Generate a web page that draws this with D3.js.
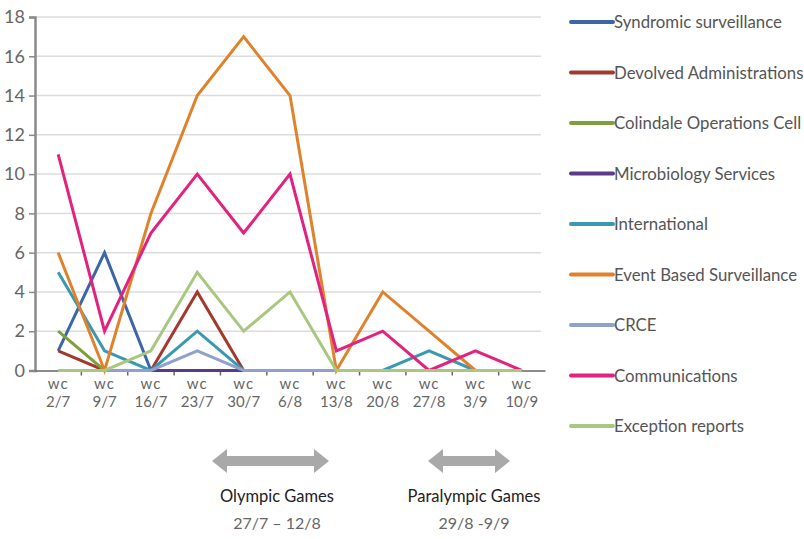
<!DOCTYPE html>
<html>
<head>
<meta charset="utf-8">
<script src="https://cdn.jsdelivr.net/npm/d3@7/dist/d3.min.js"></script>
<style>
  body { margin: 0; background: #fff; }
  text { font-family: Lato, "Open Sans", sans-serif; }
</style>
</head>
<body>
<svg id="chart" width="804" height="539"></svg>
<script>
// categories (week commencing)
var weeks = ["2/7", "9/7", "16/7", "23/7", "30/7", "6/8", "13/8", "20/8", "27/8", "3/9", "10/9"];
var yTicks = [0, 2, 4, 6, 8, 10, 12, 14, 16, 18];

// series values, null = no point
var syndromic      = [1, 6, 0, 0, 0, 0, 0, 0, 0, 0, null];
var devolved       = [1, 0, 0, 4, 0, 0, 0, 0, 0, 0, null];
var colindale      = [2, 0, 0, 0, 0, 0, 0, 0, 0, 0, null];
var microbiology   = [0, 0, 0, 0, 0, 0, 0, 0, 0, 0, null];
var international  = [5, 1, 0, 2, 0, 0, 0, 0, 1, 0, null];
var eventBased     = [6, 0, 8, 14, 17, 14, 0, 4, 2, 0, null];
var crce           = [0, 0, 0, 1, 0, 0, 0, null, null, null, null];
var communications = [11, 2, 7, 10, 7, 10, 1, 2, 0, 1, 0];
var exceptionRep   = [0, 0, 1, 5, 2, 4, 0, 0, 0, 0, 0];

var seriesNames = ["Syndromic surveillance", "Devolved Administrations", "Colindale Operations Cell",
  "Microbiology Services", "International", "Event Based Surveillance", "CRCE",
  "Communications", "Exception reports"];
var seriesValues = [syndromic, devolved, colindale, microbiology, international, eventBased, crce,
  communications, exceptionRep];
var seriesColors = ["#3c66a8", "#a3382f", "#7e9f3b", "#5c3a88", "#3a99b1", "#e0822c", "#8fa1cc",
  "#e2237e", "#a8c77f"];

// games annotations
var games = [
  {name: "Olympic Games", dates: "27/7 \u2013 12/8", x0: 212, x1: 329, tx: 277},
  {name: "Paralympic Games", dates: "29/8 -9/9", x0: 428, x1: 510, tx: 474}
];

var svg = d3.select("#chart");
var mLeft = 35, mRight = 545, mTop = 17, mBottom = 370.5;

var x = d3.scaleBand().domain(weeks).range([mLeft, mRight]);
var y = d3.scaleLinear().domain([0, 18]).range([mBottom, mTop]);

// grid
svg.append("g").selectAll("line")
  .data(yTicks.filter(function(d) { return d > 0; }))
  .enter().append("line")
  .attr("x1", mLeft).attr("x2", 541)
  .attr("y1", function(d) { return y(d); })
  .attr("y2", function(d) { return y(d); })
  .attr("stroke", "#dcdcdc").attr("stroke-width", 1.5);

// y axis
var yAxis = d3.axisLeft(y).tickValues(yTicks).tickSize(6).tickPadding(4);
var gy = svg.append("g").attr("transform", "translate(" + mLeft + ",0)").call(yAxis);
gy.select(".domain").attr("stroke", "#8a8a8a").attr("stroke-width", 2.5);
gy.selectAll(".tick line").attr("stroke", "#8a8a8a").attr("stroke-width", 1.5);
gy.selectAll(".tick text").attr("font-size", 18).attr("fill", "#666")
  .style("font-family", "Lato, sans-serif");

// x axis
var xAxis = d3.axisBottom(x).tickSize(0).tickFormat("");
var gx = svg.append("g").attr("transform", "translate(0," + mBottom + ")").call(xAxis);
gx.select(".domain").attr("stroke", "#666").attr("stroke-width", 1.5);
// separators between categories
gx.selectAll(".sep").data(weeks.slice(1)).enter().append("line")
  .attr("x1", function(d) { return x(d); }).attr("x2", function(d) { return x(d); })
  .attr("y1", 0).attr("y2", 5).attr("stroke", "#666").attr("stroke-width", 1.5);
var lab = gx.selectAll(".lab").data(weeks).enter().append("text")
  .attr("text-anchor", "middle").attr("fill", "#666").attr("font-size", 15)
  .attr("transform", function(d) { return "translate(" + (x(d) + x.bandwidth() / 2) + ",0)"; });
lab.append("tspan").attr("x", 0).attr("y", 18).attr("letter-spacing", 1).text("wc");
lab.append("tspan").attr("x", 0).attr("y", 36).text(function(d) { return d; });

// lines
var line = d3.line()
  .defined(function(d) { return d != null; })
  .x(function(d, i) { return x(weeks[i]) + x.bandwidth() / 2; })
  .y(function(d) { return y(d); });

seriesValues.forEach(function(vals, i) {
  svg.append("path").datum(vals)
    .attr("d", line)
    .attr("fill", "none")
    .attr("stroke", seriesColors[i])
    .attr("stroke-width", 3)
    .attr("stroke-linejoin", "miter");
});

// legend
var legend = svg.append("g").attr("transform", "translate(571,22)");
var item = legend.selectAll("g").data(seriesNames).enter().append("g")
  .attr("transform", function(d, i) { return "translate(0," + (i * 50.5) + ")"; });
item.append("line").attr("x1", 0).attr("x2", 42).attr("y1", 0).attr("y2", 0)
  .attr("stroke", function(d, i) { return seriesColors[i]; })
  .attr("stroke-width", 4).attr("stroke-linecap", "round");
item.append("text").attr("x", 43).attr("y", 6).attr("font-size", 16.8).attr("fill", "#555")
  .text(function(d) { return d; });

// games arrows
games.forEach(function(g) {
  var cy = 461, hl = 15, hh = 12, sh = 5;
  var p = [[g.x0, cy], [g.x0 + hl, cy - hh], [g.x0 + hl, cy - sh], [g.x1 - hl, cy - sh], [g.x1 - hl, cy - hh],
    [g.x1, cy], [g.x1 - hl, cy + hh], [g.x1 - hl, cy + sh], [g.x0 + hl, cy + sh], [g.x0 + hl, cy + hh]];
  svg.append("path").attr("d", "M" + p.join("L") + "Z").attr("fill", "#a9a9a9");
  svg.append("text").attr("x", g.tx).attr("y", 502).attr("text-anchor", "middle")
    .attr("font-size", 16.5).attr("fill", "#222").text(g.name);
  svg.append("text").attr("x", g.tx).attr("y", 529).attr("text-anchor", "middle")
    .attr("font-size", 16).attr("fill", "#666").text(g.dates);
});
</script>
</body>
</html>
